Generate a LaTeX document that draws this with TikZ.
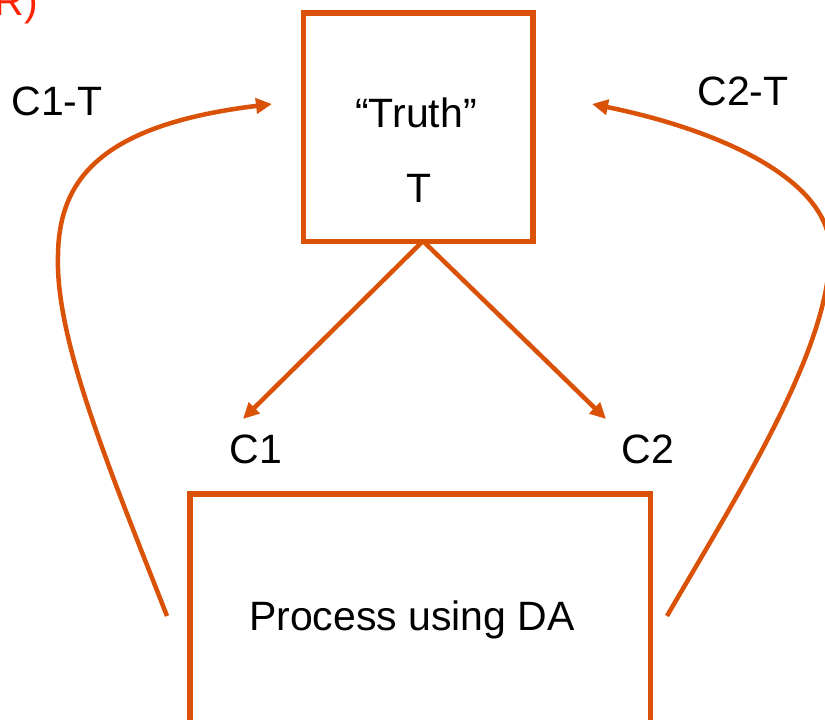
\documentclass[tikz,border=0pt]{standalone}
\usepackage{fontspec}
\setmainfont{Liberation Sans}
\usetikzlibrary{arrows.meta}
\definecolor{org}{RGB}{218,82,8}
\definecolor{redtxt}{RGB}{255,34,0}
\tikzset{
  boxstyle/.style={draw=org, line width=5.2pt, inner sep=0pt},
  lbl/.style={anchor=base, inner sep=0pt, font=\fontsize{41}{49}\selectfont},
  conn/.style={draw=org, line width=4.5pt, -{Triangle[length=16pt,width=15pt]}},
}
\begin{document}
\begin{tikzpicture}[x=1pt,y=-1pt]
\useasboundingbox (0,0) rectangle (825,720);
% boxes
\node[boxstyle, minimum width=229.5pt, minimum height=228.5pt] (truthbox) at (418.25,127.25) {};
\node[boxstyle, minimum width=460.5pt, minimum height=252pt] (procbox) at (420.25,620) {};
% texts
\node[lbl, text=redtxt, anchor=base east] (cut) at (38,16) {R)};
\node[lbl] (truthlbl) at (416,127) {“Truth”};
\node[lbl] (tlbl) at (419,202) {T};
\node[lbl] (proclbl) at (412,630) {Process using DA};
\node[lbl] (c1) at (256,463) {C1};
\node[lbl] (c2) at (648,463) {C2};
\node[lbl] (c1t) at (57,115) {C1-T};
\node[lbl] (c2t) at (743,105) {C2-T};
% connector points
\coordinate (apex) at (423,241);
\coordinate (c1tip) at (243,419);
\coordinate (c2tip) at (606,419);
\coordinate (lstart) at (167,616);
\coordinate (lmid) at (58,255);
\coordinate (ltip) at (272,104);
\coordinate (rstart) at (667,616);
\coordinate (rmid) at (830,250);
\coordinate (rtip) at (592,104);
% arrows from truth
\draw[conn] (apex) -- (c1tip);
\draw[conn] (apex) -- (c2tip);
% feedback curves
\draw[conn] (lstart) .. controls (110,470) and (55,340) .. (lmid)
  .. controls (59,180) and (100,125) .. (ltip);
\draw[conn] (rstart) .. controls (740,490) and (830,350) .. (rmid)
  .. controls (830,180) and (720,130) .. (rtip);
\end{tikzpicture}
\end{document}
